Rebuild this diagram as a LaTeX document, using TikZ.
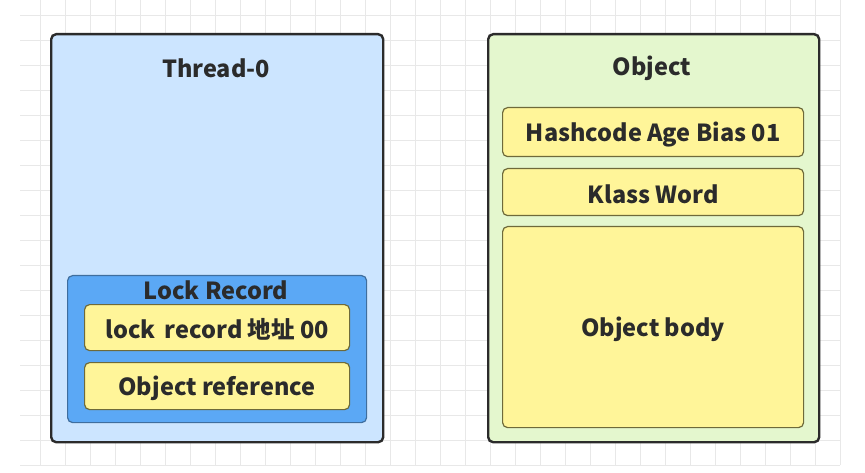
\documentclass[tikz,border=0pt]{standalone}
\usepackage{fontspec}
\setmainfont{Noto Sans CJK SC}
\usetikzlibrary{positioning}
\definecolor{tblue}{HTML}{CCE5FF}
\definecolor{lblue}{HTML}{5BA8F5}
\definecolor{lborder}{HTML}{3F6E9E}
\definecolor{ygreen}{HTML}{E4F7CE}
\definecolor{yfill}{HTML}{FFF599}
\definecolor{yborder}{HTML}{6E6A3A}
\definecolor{txt}{HTML}{2B2B2B}
\definecolor{gridc}{HTML}{E8E8E8}
\tikzset{
  outerbox/.style={draw=txt, line width=2.4pt, rounded corners=5pt, anchor=north west, inner sep=0pt},
  recbox/.style={draw=lborder, fill=lblue, line width=1.2pt, rounded corners=5pt, anchor=north west, inner sep=0pt},
  fieldbox/.style={draw=yborder, fill=yfill, line width=1.2pt, rounded corners=5pt, anchor=north west, inner sep=0pt},
  lbl/.style={text=txt, font=\bfseries\fontsize{23.5}{26}\selectfont, inner sep=0pt, yshift=-2pt},
}
\begin{document}
\begin{tikzpicture}[x=1pt,y=-1pt]
\useasboundingbox (0,0) rectangle (865,473);
\fill[white] (0,0) rectangle (865,473);
\draw[gridc, line width=0.8pt, step=25pt, shift={(15,-10)}] (5,5) grid (825,475);
% Thread-0
\node[outerbox, fill=tblue, minimum width=332pt, minimum height=408pt] (thread) at (50,33) {};
\node[lbl] (threadt) at (216,66) {Thread-0};
\node[recbox, minimum width=299pt, minimum height=147pt] (lockrec) at (67,275) {};
\node[lbl] (lockrect) at (216,288) {Lock Record};
\node[fieldbox, minimum width=265pt, minimum height=46pt] (lraddr) at (84,304) {};
\node[lbl] at (lraddr.center) {lock\, record 地址 00};
\node[fieldbox, minimum width=265pt, minimum height=47pt] (objref) at (84,362) {};
\node[lbl] at (objref.center) {Object reference};
% Object
\node[outerbox, fill=ygreen, minimum width=331pt, minimum height=408pt] (obj) at (487,33) {};
\node[lbl] (objt) at (652,66) {Object};
\node[fieldbox, minimum width=301pt, minimum height=49pt] (hash) at (502,107) {};
\node[lbl] at (hash.center) {Hashcode Age Bias 01};
\node[fieldbox, minimum width=301pt, minimum height=47pt] (klass) at (502,168) {};
\node[lbl] at (klass.center) {Klass Word};
\node[fieldbox, minimum width=301pt, minimum height=201pt] (body) at (502,226) {};
\node[lbl] at (body.center) {Object body};
\end{tikzpicture}
\end{document}
